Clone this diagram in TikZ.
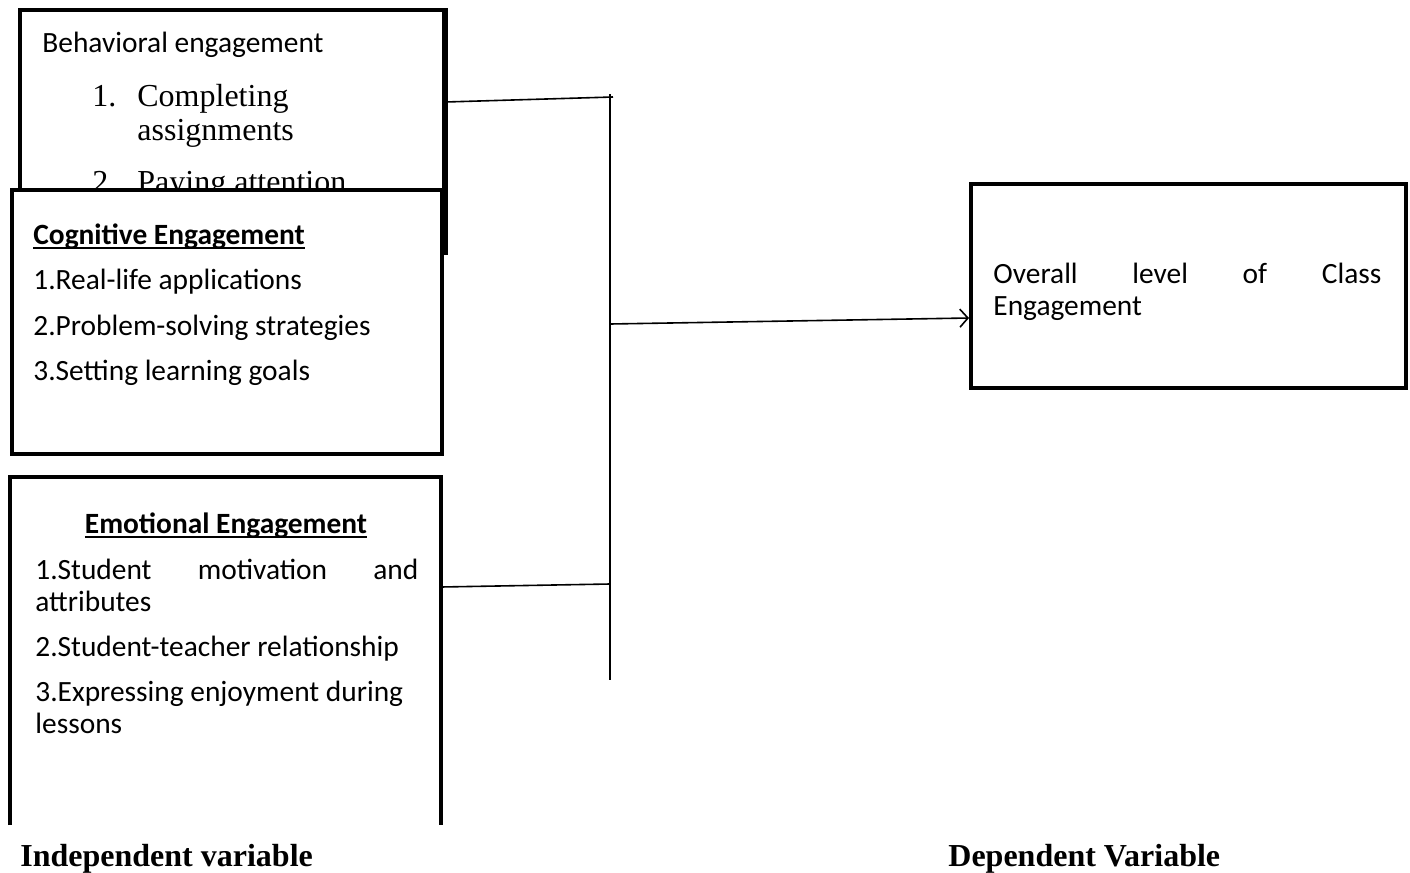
\documentclass[tikz,border=0pt]{standalone}
\usepackage{fontspec}
\setmainfont{Liberation Serif}
\newfontfamily\calibri{Carlito}
\usetikzlibrary{arrows.meta}

\newsavebox\headbox
\newcommand\ulhead[1]{\sbox\headbox{\bfseries #1}\rlap{\usebox\headbox}\rule[-2.6pt]{\wd\headbox}{1.1pt}}

\tikzset{
  box/.style={draw, line width=2pt, fill=white, inner sep=0pt, anchor=north west},
  link/.style={line width=0.8pt},
  txt/.style={anchor=base west, inner sep=0pt, font=\calibri\fontsize{14.7}{17}\selectfont},
  serif/.style={anchor=base west, inner sep=0pt, font=\fontsize{16}{19}\selectfont},
}

\begin{document}
\begin{tikzpicture}[x=0.5pt, y=-0.5pt]
    \useasboundingbox (0,0) rectangle (1410,873);

    % behavioral engagement (partly hidden)
    \node[box, minimum width=211.75pt, minimum height=121.5pt] (behav) at (18,8) {};
    \node[txt] (behavHead) at (42,52) {Behavioral engagement};
    \node[serif] (behavNumA) at (92,106) {1.};
    \node[serif] (behavA) at (137,106) {Completing};
    \node[serif] (behavA2) at (137,140) {assignments};
    \node[serif] (behavNumB) at (92,192) {2.};
    \node[serif] (behavB) at (137,192) {Paying attention};

    % cognitive engagement
    \node[box, minimum width=214.75pt, minimum height=132pt] (cog) at (10,187.5) {};
    \draw[line width=2pt] (behav.north east) -- (behav.south east);
    \node[txt] (cogHead) at (33,244) {\ulhead{Cognitive Engagement}};
    \foreach \t [count=\i] in {1.Real-life applications, 2.Problem-solving strategies, 3.Setting learning goals}
        \node[txt] (cog\i) at (33,{244+45.5*\i}) {\t};

    % emotional engagement (open at the bottom)
    \draw[line width=2pt] (10,825) -- (10,477) -- (441,477) -- (441,825);
    \node[txt, anchor=base] (emoHead) at (226,533) {\ulhead{Emotional Engagement}};
    \node[txt] (emo1) at (35,579) {\makebox[191.5pt][s]{1.Student motivation and}};
    \node[txt] (emo1b) at (35,611) {attributes};
    \node[txt] (emo2) at (35,656) {2.Student-teacher relationship};
    \node[txt] (emo3) at (35,701) {3.Expressing enjoyment during};
    \node[txt] (emo3b) at (35,733) {lessons};

    % dependent variable
    \node[box, minimum width=217.5pt, minimum height=102pt] (dep) at (969,182) {};
    \node[txt] (depA) at (993,283) {\makebox[194pt][s]{Overall level of Class}};
    \node[txt] (depB) at (993,315) {Engagement};

    % connectors
    \coordinate (barTop) at (610,97);
    \coordinate (barMid) at (610,324);
    \coordinate (barBot) at (610,680);
    \coordinate (emoOut) at (441,587);
    \coordinate (emoIn) at (610,584);
    \draw[link] (barTop) ++(0,-3) -- (barBot);
    \draw[link] ([yshift=-47pt]behav.north east) -- ([xshift=1.5pt]barTop);
    \draw[link] (emoOut) -- (emoIn);
    \draw[link, -{Straight Barb[length=4pt, width=9pt]}] (barMid) -- ([yshift=-16pt]dep.west);

    % labels
    \node[serif, font=\fontsize{16}{19}\selectfont\bfseries] (indep) at (20,866) {Independent variable};
    \node[serif, font=\fontsize{16}{19}\selectfont\bfseries] (depLabel) at (948,866) {Dependent Variable};
\end{tikzpicture}
\end{document}
